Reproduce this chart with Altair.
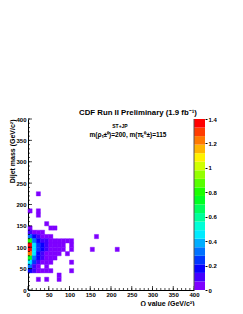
import colorsys
import altair as alt
import pandas as pd

# ---- data: rows of dijet-mass bins (lower edge, GeV/c^2), Q-value bins (lower edge) and weights
mass_rows = [220, 180, 170, 150, 140, 130, 120, 110, 100, 90, 80, 70, 60, 50, 40, 30, 20]
q_rows = [
    [20],
    [0, 20],
    [20],
    [40],
    [0, 50, 60],
    [0, 10, 20, 30],
    [0, 10, 20, 30, 40, 50, 160],
    [0, 10, 20, 30, 40, 50, 60, 70, 80, 90, 100],
    [0, 10, 20, 30, 40, 50, 60, 70, 80, 100],
    [0, 10, 20, 30, 40, 50, 60, 70, 80, 100, 150, 210],
    [0, 10, 20, 30, 40, 50, 60, 70, 90],
    [0, 10, 20, 30, 40, 50, 60],
    [0, 10, 20, 30, 40, 50, 100],
    [0, 10, 20, 40],
    [0, 10, 20, 30, 40, 50, 100],
    [70],
    [20, 40, 70],
]
w_rows = [
    [0.05],
    [0.05, 0.05],
    [0.05],
    [0.05],
    [0.05, 0.05, 0.05],
    [0.08, 0.05, 0.05, 0.05],
    [0.30, 0.20, 0.08, 0.05, 0.05, 0.05, 0.05],
    [0.80, 0.32, 0.20, 0.12, 0.08, 0.05, 0.05, 0.05, 0.05, 0.05, 0.05],
    [1.38, 0.48, 0.24, 0.15, 0.09, 0.05, 0.05, 0.05, 0.05, 0.05],
    [1.35, 0.45, 0.24, 0.15, 0.08, 0.05, 0.05, 0.05, 0.05, 0.05, 0.05, 0.05],
    [1.22, 0.45, 0.20, 0.10, 0.06, 0.05, 0.05, 0.05, 0.05],
    [0.74, 0.30, 0.15, 0.08, 0.05, 0.05, 0.05],
    [0.42, 0.22, 0.10, 0.05, 0.05, 0.05, 0.05],
    [0.30, 0.12, 0.06, 0.05],
    [0.18, 0.08, 0.05, 0.05, 0.05, 0.05, 0.05],
    [0.05],
    [0.05, 0.05, 0.05],
]
bin_width = 10
x_ticks = [0, 50, 100, 150, 200, 250, 300, 350, 400]
y_ticks = [0, 50, 100, 150, 200, 250, 300, 350, 400]
z_ticks = [0, 0.2, 0.4, 0.6, 0.8, 1.0, 1.2, 1.4]
z_max = 1.4
n_levels = 20

title_text = "CDF Run II Preliminary (1.9 fb\u207b\u00b9)"
label1_text = "ST+JP"
label2_text = "m(\u03c1\u209c\u00b1\u2070)=200, m(\u03c0\u209c\u2070\u00b1)=115"

# ---- build tables
recs = []
for m, qs, ws in zip(mass_rows, q_rows, w_rows):
    for q, w in zip(qs, ws):
        recs.append({"q0": q, "q1": q + bin_width, "m0": m, "m1": m + bin_width, "w": w})
df = pd.DataFrame(recs)

step = z_max / n_levels
band_df = pd.DataFrame({
    "lo": [i * step for i in range(n_levels)],
    "hi": [(i + 1) * step for i in range(n_levels)],
    "mid": [(i + 0.5) * step for i in range(n_levels)],
})

palette = []
for i in range(n_levels):
    h = 270.0 * (1 - i / (n_levels - 1)) / 360.0
    r, g, b = colorsys.hls_to_rgb(h, 0.5, 1.0)
    palette.append("#%02x%02x%02x" % (round(r * 255), round(g * 255), round(b * 255)))

FONT = "Liberation Sans"
W, H, CBW = 166, 171, 11

cscale = alt.Scale(type="quantize", domain=[0, z_max], range=palette, nice=False)
xs = alt.Scale(domain=[0, 400], nice=False, zero=False)
ys = alt.Scale(domain=[0, 400], nice=False, zero=False)

xaxis = alt.Axis(values=x_ticks, format="d", title="Q value (GeV/c\u00b2)", titleAnchor="end",
                 titleFont=FONT, titleFontSize=7, titleFontWeight="bold", titlePadding=2,
                 labelFont=FONT, labelFontSize=6, labelFontWeight="bold", labelPadding=1,
                 labelFlush=False, ticks=False, domainColor="#000", grid=False, labelColor="#000",
                 titleColor="#000")
yaxis = alt.Axis(values=y_ticks, format="d", title="Dijet mass (GeV/c\u00b2)", titleAnchor="end",
                 titleAngle=270, titleX=-14, titleBaseline="alphabetic",
                 titleFont=FONT, titleFontSize=7, titleFontWeight="bold",
                 labelFont=FONT, labelFontSize=6, labelFontWeight="bold", labelPadding=2,
                 labelFlush=False, ticks=False, domainColor="#000", grid=False, labelColor="#000",
                 titleColor="#000")

heat = alt.Chart(df).mark_rect(strokeWidth=0.4).encode(
    x=alt.X("q0:Q", scale=xs, axis=xaxis),
    x2="q1:Q",
    y=alt.Y("m0:Q", scale=ys, axis=yaxis),
    y2="m1:Q",
    color=alt.Color("w:Q", scale=cscale, legend=None),
    stroke=alt.Stroke("w:Q", scale=cscale, legend=None),
)

minor_vals = pd.DataFrame({"v": list(range(0, 401, 10))})
major_vals = pd.DataFrame({"v": x_ticks})

xt_minor = alt.Chart(minor_vals).mark_rule(color="#000", strokeWidth=0.7).encode(
    x=alt.X("v:Q", scale=xs, axis=xaxis), y=alt.value(H), y2=alt.value(H - 2))
xt_major = alt.Chart(major_vals).mark_rule(color="#000", strokeWidth=0.7).encode(
    x=alt.X("v:Q", scale=xs, axis=xaxis), y=alt.value(H), y2=alt.value(H - 4))
yt_minor = alt.Chart(minor_vals).mark_rule(color="#000", strokeWidth=0.7).encode(
    y=alt.Y("v:Q", scale=ys, axis=yaxis), x=alt.value(0), x2=alt.value(2))
yt_major = alt.Chart(major_vals).mark_rule(color="#000", strokeWidth=0.7).encode(
    y=alt.Y("v:Q", scale=ys, axis=yaxis), x=alt.value(0), x2=alt.value(4))

t_title = alt.Chart(pd.DataFrame({"t": [title_text]})).mark_text(
    font=FONT, fontSize=7.8, fontWeight="bold", align="center", baseline="alphabetic", color="#000"
).encode(text="t:N", x=alt.value(110), y=alt.value(-4))
t_l1 = alt.Chart(pd.DataFrame({"t": [label1_text]})).mark_text(
    font=FONT, fontSize=5, fontWeight="bold", align="center", baseline="alphabetic", color="#000"
).encode(text="t:N", x=alt.value(92), y=alt.value(8.5))
t_l2 = alt.Chart(pd.DataFrame({"t": [label2_text]})).mark_text(
    font=FONT, fontSize=6.5, fontWeight="bold", align="center", baseline="alphabetic", color="#000"
).encode(text="t:N", x=alt.value(100), y=alt.value(18))

main = alt.layer(heat, xt_minor, xt_major, yt_minor, yt_major, t_title, t_l1, t_l2).properties(
    width=W, height=H)

zaxis = alt.Axis(orient="right", values=z_ticks, format=".1~f", title=None,
                 labelFont=FONT, labelFontSize=6, labelFontWeight="bold", labelPadding=1,
                 labelFlush=False, tickSize=2, tickColor="#000", domain=False, grid=False,
                 labelColor="#000")
cbar = alt.Chart(band_df).mark_rect().encode(
    x=alt.value(0), x2=alt.value(CBW),
    y=alt.Y("lo:Q", scale=alt.Scale(domain=[0, z_max], nice=False, zero=False), axis=zaxis),
    y2="hi:Q",
    color=alt.Color("mid:Q", scale=cscale, legend=None),
)
cb_edge = alt.Chart(pd.DataFrame({"v": [0]})).mark_rule(color="#555", strokeWidth=1).encode(
    x=alt.value(0), y=alt.value(0), y2=alt.value(H))
colorbar = alt.layer(cbar, cb_edge).properties(width=CBW, height=H)

chart = alt.hconcat(main, colorbar, spacing=0, bounds="flush").resolve_scale(color="shared").properties(
    padding={"left": 0, "top": 101, "right": 0, "bottom": 0}
).configure_view(stroke=None).configure_axis(labelColor="#000", titleColor="#000")

chart.save("out.html", embed_options={"renderer": "svg", "actions": False})
